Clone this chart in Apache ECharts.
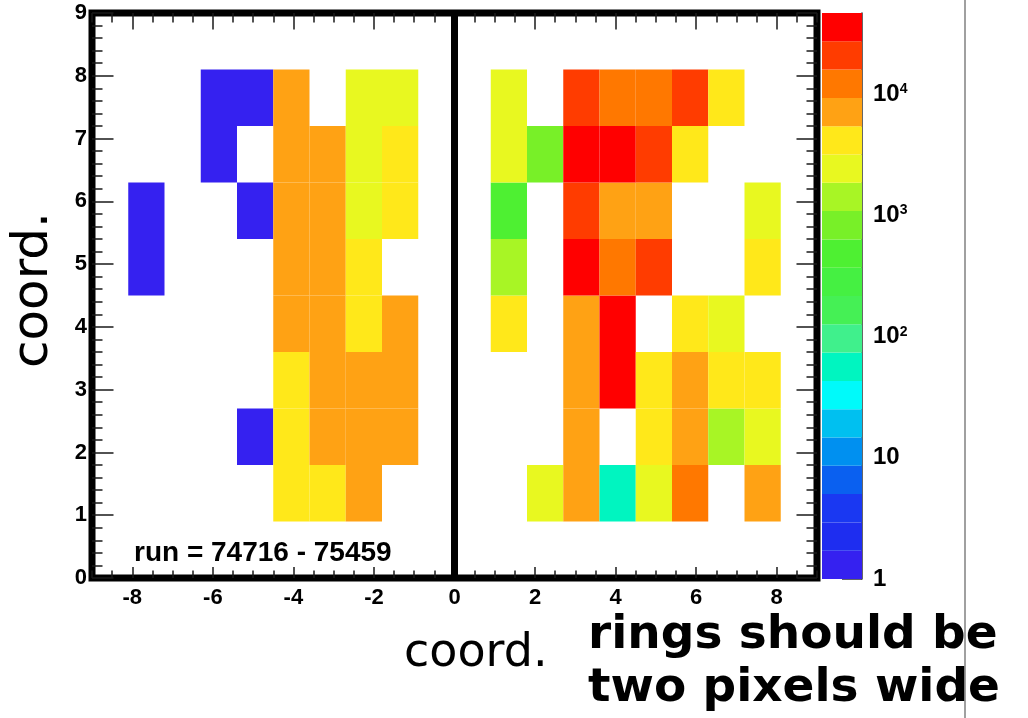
<!DOCTYPE html>
<html>
<head>
<meta charset="utf-8">
<title>coord map</title>
<script src="https://cdn.jsdelivr.net/npm/echarts@6/dist/echarts.min.js"></script>
<style>
  html, body { margin: 0; padding: 0; background: #fff; }
  #chart { width: 1028px; height: 718px; }
</style>
</head>
<body>
<div id="chart"></div>
<script>
  // binning: 20 x 10 bins of 0.9, x from -9 to 9, y from 0 to 9
  var xMin = -9, xMax = 9, yMin = 0, yMax = 9;
  var binWidth = 0.9;

  // counts per row (bottom row first), 20 bins each, null = empty
  var _ = null;
  var row0 = [_,_,_,_,_, _,_,_,_,_, _,_,_,_,_, _,_,_,_,_];
  var row1 = [_,_,_,_,_, 4200,3900,7000,_,_, _,_,2500,7400,56, 2600,12800,_,6900,_];
  var row2 = [_,_,_,_,1, 4300,7100,7300,6900,_, _,_,_,7500,_, 4100,7200,1500,2400,_];
  var row3 = [_,_,_,_,_, 4400,7200,7400,7000,_, _,_,_,7600,37000, 4200,7100,4000,4100,_];
  var row4 = [_,_,_,_,_, 7300,7500,4300,7000,_, _,4000,_,7800,38000, _,4200,2500,_,_];
  var row5 = [_,1,_,_,_, 7400,7600,4100,_,_, _,1500,_,36000,12500, 21000,_,_,4000,_];
  var row6 = [_,1,_,_,1, 7500,7600,2700,4300,_, _,520,_,22000,7700, 7600,_,_,2500,_];
  var row7 = [_,_,_,1,_, 7400,7300,2800,4200,_, _,2600,850,40000,41000, 23000,4100,_,_,_];
  var row8 = [_,_,_,1,1, 7200,_,2700,2600,_, _,2700,_,22000,13000, 12800,21500,4000,_,_];
  var row9 = [_,_,_,_,_, _,_,_,_,_, _,_,_,_,_, _,_,_,_,_];
  var rows = [row0, row1, row2, row3, row4, row5, row6, row7, row8, row9];

  // z scale (log), 20 colour levels from 1 to zMax
  var zMin = 1, zMax = 47000;
  var palette = [
    '#3521f0', '#1e2df0', '#1a38f2', '#0a60f0', '#0090f0',
    '#00c0f0', '#00fafa', '#00f5c0', '#40f08c', '#45f055',
    '#45f042', '#4ef032', '#78f028', '#a8f525', '#e8f820',
    '#ffe81a', '#ffa214', '#ff7800', '#ff3c00', '#ff0000'
  ];

  // tick labels
  var xLabelValues = [-8, -6, -4, -2, 0, 2, 4, 6, 8];
  var zDecades = [0, 1, 2, 3, 4];   // log10 of 1, 10, 100, 1000, 10000

  var runLabel = 'run = 74716 - 75459';

  var logMax = Math.log10(zMax);
  var levelStep = logMax / palette.length;

  function levelOf(v) {
    var k = Math.floor(Math.log10(v) / levelStep);
    return Math.max(0, Math.min(palette.length - 1, k));
  }

  var cells = [];
  rows.forEach(function (row, j) {
    row.forEach(function (v, i) {
      if (v != null) {
        cells.push([xMin + (i + 0.5) * binWidth, yMin + (j + 0.5) * binWidth, v]);
      }
    });
  });

  var bands = palette.map(function (c, k) {
    return [k * levelStep, (k + 1) * levelStep, k];
  });

  var zMinorTicks = [];
  zDecades.forEach(function (d) {
    for (var k = 2; k <= 9; k++) {
      var lv = d + Math.log10(k);
      if (lv < logMax) zMinorTicks.push(lv);
    }
  });

  var font = 'Liberation Sans';
  var tickStyle = {color: '#1a1a1a', width: 1.5};
  var noLine = {show: false, onZero: false};

  var option = {
    backgroundColor: '#fff',
    animation: false,
    grid: [
      {left: 92, top: 13, width: 725, height: 565, show: true,
       borderColor: '#000', borderWidth: 7, backgroundColor: '#fff'},
      {left: 822, top: 13, width: 40, height: 566}
    ],
    xAxis: [
      { // bottom: minor ticks + labels
        type: 'value', gridIndex: 0, position: 'bottom', min: xMin, max: xMax, interval: 0.5,
        axisLine: noLine, splitLine: {show: false},
        axisTick: {inside: true, length: 7.5, lineStyle: tickStyle},
        axisLabel: {customValues: xLabelValues, margin: 9, fontFamily: font,
                    fontWeight: 'bold', fontSize: 22, color: '#000'}
      },
      { // bottom: major ticks
        type: 'value', gridIndex: 0, position: 'bottom', min: xMin, max: xMax,
        axisLine: noLine, splitLine: {show: false}, axisLabel: {show: false},
        axisTick: {inside: true, length: 11, customValues: xLabelValues, lineStyle: tickStyle}
      },
      { // top: minor ticks
        type: 'value', gridIndex: 0, position: 'top', min: xMin, max: xMax, interval: 0.5,
        axisLine: noLine, splitLine: {show: false}, axisLabel: {show: false},
        axisTick: {inside: true, length: 9.5, lineStyle: tickStyle}
      },
      { // top: major ticks
        type: 'value', gridIndex: 0, position: 'top', min: xMin, max: xMax,
        axisLine: noLine, splitLine: {show: false}, axisLabel: {show: false},
        axisTick: {inside: true, length: 16.5, customValues: xLabelValues, lineStyle: tickStyle}
      },
      { // colour bar
        type: 'value', gridIndex: 1, min: 0, max: 1, show: false,
        axisLine: noLine
      }
    ],
    yAxis: [
      {
        type: 'value', gridIndex: 0, position: 'left', min: yMin, max: yMax, interval: 1,
        axisLine: noLine, splitLine: {show: false},
        axisTick: {inside: true, length: 21.5, lineStyle: tickStyle},
        minorTick: {show: true, splitNumber: 5, length: 10.5, lineStyle: tickStyle},
        axisLabel: {margin: 5, fontFamily: font, fontWeight: 'bold', fontSize: 22, color: '#000',
                    padding: [5, 0, 0, 0]}
      },
      {
        type: 'value', gridIndex: 0, position: 'right', min: yMin, max: yMax, interval: 1,
        axisLine: noLine, splitLine: {show: false}, axisLabel: {show: false},
        axisTick: {inside: true, length: 20.5, lineStyle: tickStyle},
        minorTick: {show: true, splitNumber: 5, length: 10.5, lineStyle: tickStyle}
      },
      { // colour bar axis, log10 units
        type: 'value', gridIndex: 1, position: 'right', min: 0, max: logMax,
        splitLine: {show: false},
        axisLine: {show: true, onZero: false, lineStyle: {color: '#333', width: 1.5}},
        axisTick: {inside: true, length: 20, customValues: zDecades,
                   lineStyle: {color: '#333', width: 1.5}},
        axisLabel: {
          customValues: zDecades, margin: 11,
          formatter: function (v) {
            if (v === 0) return '{b|1}';
            if (v === 1) return '{b|10}';
            return '{b|10}{s|' + v + '}';
          },
          rich: {
            b: {fontFamily: font, fontWeight: 'bold', fontSize: 24, color: '#000'},
            s: {fontFamily: font, fontWeight: 'bold', fontSize: 14, color: '#000', verticalAlign: 'top'}
          }
        }
      },
      {
        type: 'value', gridIndex: 1, position: 'right', min: 0, max: logMax,
        splitLine: {show: false}, axisLine: noLine, axisLabel: {show: false},
        axisTick: {inside: true, length: 10, customValues: zMinorTicks,
                   lineStyle: {color: '#333', width: 1.5}}
      }
    ],
    series: [
      {
        name: 'counts',
        type: 'custom',
        xAxisIndex: 0,
        yAxisIndex: 0,
        data: cells,
        renderItem: function (params, api) {
          var x = api.value(0), y = api.value(1);
          var p0 = api.coord([x - binWidth / 2, y + binWidth / 2]);
          var p1 = api.coord([x + binWidth / 2, y - binWidth / 2]);
          return {
            type: 'rect',
            shape: {x: p0[0], y: p0[1], width: p1[0] - p0[0], height: p1[1] - p0[1]},
            style: {fill: palette[levelOf(api.value(2))]}
          };
        },
        z: 2
      },
      {
        name: 'x=0',
        type: 'line',
        xAxisIndex: 0,
        yAxisIndex: 0,
        data: [[0, yMin], [0, yMax]],
        symbol: 'none',
        lineStyle: {color: '#000', width: 7},
        silent: true,
        z: 5
      },
      {
        name: 'palette',
        type: 'custom',
        xAxisIndex: 4,
        yAxisIndex: 2,
        data: bands,
        renderItem: function (params, api) {
          var p0 = api.coord([0, api.value(1)]);
          var p1 = api.coord([1, api.value(0)]);
          return {
            type: 'rect',
            shape: {x: p0[0], y: p0[1], width: p1[0] - p0[0], height: p1[1] - p0[1]},
            style: {fill: palette[api.value(2)]}
          };
        },
        z: 1
      }
    ],
    graphic: [
      {type: 'text', left: 134, top: 539, z: 10,
       style: {text: runLabel, font: 'bold 28px "Liberation Sans"', fill: '#000'}},
      {type: 'text', x: 34, y: 290, rotation: Math.PI / 2,
       style: {text: 'coord.', font: '50px "DejaVu Sans"', fill: '#000',
               align: 'center', verticalAlign: 'middle'}},
      {type: 'text', x: 404, y: 654,
       style: {text: 'coord.', font: '46px "DejaVu Sans"', fill: '#000',
               align: 'left', verticalAlign: 'middle'}},
      {type: 'line', shape: {x1: 965, y1: 0, x2: 965, y2: 718},
       style: {stroke: '#808080', lineWidth: 1.5}},
      {type: 'text', x: 588, y: 636,
       style: {text: 'rings should be', font: 'bold 47px "DejaVu Sans"', fill: '#000',
               align: 'left', verticalAlign: 'middle'}},
      {type: 'text', x: 588, y: 689,
       style: {text: 'two pixels wide', font: 'bold 47px "DejaVu Sans"', fill: '#000',
               align: 'left', verticalAlign: 'middle'}}
    ]
  };

  var chart = echarts.init(document.getElementById('chart'));
  chart.setOption(option);
</script>
</body>
</html>
